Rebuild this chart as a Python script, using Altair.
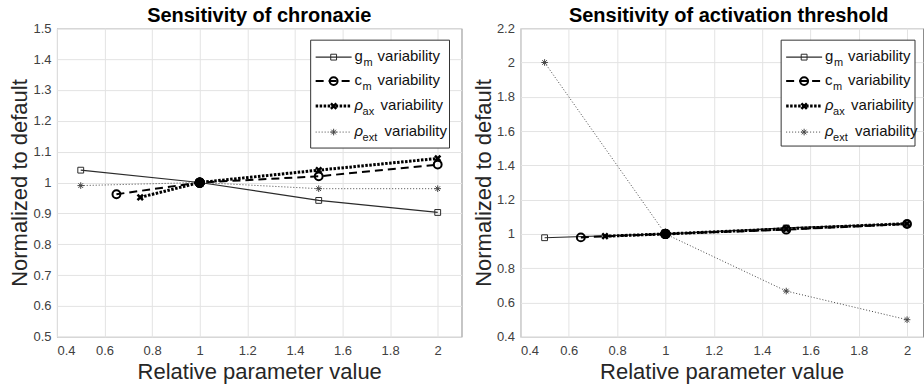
import altair as alt
import pandas as pd

# ---------------- data ----------------
series_keys = ["gm", "cm", "ax", "ext"]
gm_x = [0.5, 1.0, 1.5, 2.0]
cm_x = [0.65, 1.0, 1.5, 2.0]
ax_x = [0.75, 1.0, 1.5, 2.0]
ext_x = [0.5, 1.0, 1.5, 2.0]

chron_gm = [1.04, 1.0, 0.942, 0.903]
chron_cm = [0.962, 1.0, 1.02, 1.058]
chron_ax = [0.952, 1.0, 1.04, 1.078]
chron_ext = [0.99, 1.0, 0.98, 0.98]

thr_gm = [0.978, 1.0, 1.035, 1.06]
thr_cm = [0.98, 1.0, 1.025, 1.058]
thr_ax = [0.987, 1.0, 1.03, 1.06]
thr_ext = [2.0, 1.0, 0.667, 0.5]

x_ticks = [0.4, 0.6, 0.8, 1.0, 1.2, 1.4, 1.6, 1.8, 2.0]
chron_y_ticks = [0.5, 0.6, 0.7, 0.8, 0.9, 1.0, 1.1, 1.2, 1.3, 1.4, 1.5]
thr_y_ticks = [0.4, 0.6, 0.8, 1.0, 1.2, 1.4, 1.6, 1.8, 2.0, 2.2]

legend_symbols = ["g", "c", "ρ", "ρ"]
legend_subs = ["m", "m", "ax", "ext"]
legend_word = "variability"

titles = ["Sensitivity of chronaxie", "Sensitivity of activation threshold"]
x_title = "Relative parameter value"
y_title = "Normalized to default"

# ---------------- styles ----------------
FONT = "Liberation Sans"
ASTERISK = "M-1,0L1,0M0,-1L0,1M-0.7,-0.7L0.7,0.7M-0.7,0.7L0.7,-0.7"
XMARK = "M-1,-1L1,1M-1,1L1,-1"
styles = {
    "gm": dict(dash=None, lw=1.2, color="#2b2b2b", shape="square", size=34, psw=1),
    "cm": dict(dash=[8, 5], lw=2, color="#000000", shape="circle", size=62, psw=2),
    "ax": dict(dash=[2.5, 1.5], lw=3, color="#000000", shape=XMARK, size=30, psw=2.5),
    "ext": dict(dash=[1, 2], lw=1, color="#444444", shape=ASTERISK, size=44, psw=1),
}

W_LEFT, W_RIGHT, H = 405, 403, 309


def make_df(xs, ys):
    rows = []
    for key, xv, yv in zip(series_keys, xs, ys):
        for a, b in zip(xv, yv):
            rows.append({"s": key, "x": a, "y": b})
    return pd.DataFrame(rows)


def legend_layers(box_x0, box_x1, box_y0, box_y1):
    one = pd.DataFrame({"k": [0]})
    layers = [
        alt.Chart(one).mark_rect(fill="white", stroke="#333333", strokeWidth=1).encode(
            x=alt.value(box_x0), x2=alt.value(box_x1), y=alt.value(box_y0), y2=alt.value(box_y1)
        )
    ]
    row_y = [29, 53, 78, 104]
    word_dx = [67, 67, 70, 74]
    sub_dx = [9, 8, 8, 8]
    for i, key in enumerate(series_keys):
        st = styles[key]
        ry = row_y[i]
        lkw = dict(color=st["color"], strokeWidth=st["lw"])
        if st["dash"]:
            lkw["strokeDash"] = st["dash"]
        layers.append(
            alt.Chart(one).mark_rule(**lkw).encode(
                x=alt.value(box_x0 + 5), x2=alt.value(box_x0 + 41), y=alt.value(ry)
            )
        )
        layers.append(
            alt.Chart(one).mark_point(
                shape=st["shape"], filled=False, size=st["size"], strokeWidth=st["psw"],
                color=st["color"], opacity=1
            ).encode(x=alt.value(box_x0 + 23), y=alt.value(ry))
        )
        layers.append(
            alt.Chart(one).mark_text(
                text=legend_symbols[i], align="left", baseline="middle", font=FONT,
                fontSize=15, fontStyle="italic" if legend_symbols[i] == "ρ" else "normal",
                color="#111111"
            ).encode(x=alt.value(box_x0 + 44), y=alt.value(ry - 1))
        )
        layers.append(
            alt.Chart(one).mark_text(
                text=legend_subs[i], align="left", baseline="middle", font=FONT,
                fontSize=11, color="#111111"
            ).encode(x=alt.value(box_x0 + 44 + sub_dx[i]), y=alt.value(ry + 6))
        )
        layers.append(
            alt.Chart(one).mark_text(
                text=legend_word, align="left", baseline="middle", font=FONT,
                fontSize=15, color="#111111"
            ).encode(x=alt.value(box_x0 + word_dx[i]), y=alt.value(ry - 1))
        )
    return layers


def panel(title, df, xdom, ydom, yticks, width, box, title_dx):
    base = alt.Chart(df)
    x = alt.X("x:Q", scale=alt.Scale(domain=xdom, nice=False, zero=False),
              axis=alt.Axis(values=x_ticks, format="~g", title=x_title))
    y = alt.Y("y:Q", scale=alt.Scale(domain=ydom, nice=False, zero=False),
              axis=alt.Axis(values=yticks, format="~g", title=y_title))
    layers = []
    for key in series_keys:
        st = styles[key]
        sub = base.transform_filter(alt.datum.s == key)
        lkw = dict(color=st["color"], strokeWidth=st["lw"])
        if st["dash"]:
            lkw["strokeDash"] = st["dash"]
        layers.append(sub.mark_line(**lkw).encode(x=x, y=y))
    for key in series_keys:
        st = styles[key]
        sub = base.transform_filter(alt.datum.s == key)
        layers.append(
            sub.mark_point(shape=st["shape"], filled=False, size=st["size"],
                           strokeWidth=st["psw"], color=st["color"], opacity=1).encode(x=x, y=y)
        )
    layers.append(
        base.transform_filter(alt.datum.x == 1).mark_point(
            shape="circle", filled=True, size=105, color="#000000", opacity=1
        ).encode(x=x, y=y)
    )
    layers += legend_layers(*box)
    return alt.layer(*layers).properties(
        width=width, height=H,
        title=alt.TitleParams(title, anchor="middle", dx=title_dx, font=FONT, fontSize=20,
                              fontWeight="bold", color="#000000", offset=-4),
    )


left = panel(titles[0], make_df([gm_x, cm_x, ax_x, ext_x], [chron_gm, chron_cm, chron_ax, chron_ext]),
             [0.4, 2.1], [0.5, 1.5], chron_y_ticks, W_LEFT, (254, 393, 12, 120), 0)
right = panel(titles[1], make_df([gm_x, cm_x, ax_x, ext_x], [thr_gm, thr_cm, thr_ax, thr_ext]),
              [0.4, 2.066], [0.4, 2.2], thr_y_ticks, W_RIGHT, (261, 395, 12, 118), 7)

chart = alt.hconcat(left, right, spacing=9).configure(
    padding={"left": 8, "top": 5, "right": 0, "bottom": 0}
).configure_view(
    stroke="#8c8c8c", strokeWidth=1
).configure_axis(
    labelFont=FONT, labelFontSize=13, labelColor="#404040",
    titleFont=FONT, titleFontSize=22, titleFontWeight="normal", titleColor="#262626",
    gridColor="#e3e3e3", gridWidth=1, domain=False, ticks=False, labelPadding=6,
).configure_axisX(
    labelPadding=8, titlePadding=4
).configure_axisY(
    titlePadding=1
)

chart.save("out.html", embed_options={"renderer": "svg", "actions": False})
